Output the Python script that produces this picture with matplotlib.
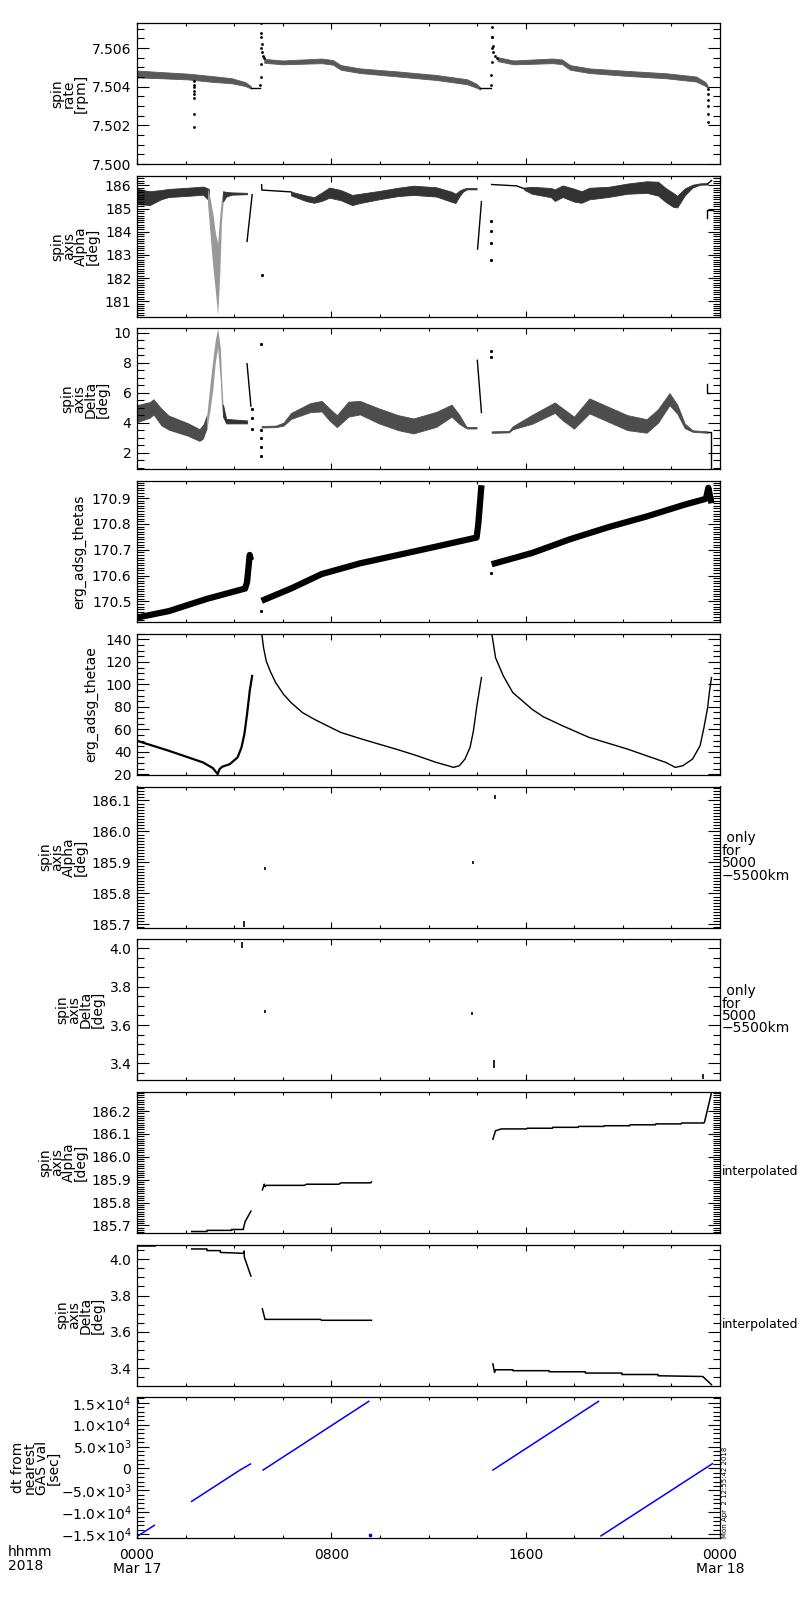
import matplotlib
matplotlib.use("Agg")
import matplotlib.pyplot as plt
from matplotlib.ticker import MultipleLocator, FixedLocator

# ---------------- data (hours after 0000 Mar 17) ----------------
# panel 1: spin rate [rpm]
rate_a_t = [0.00, 0.99, 2.09, 3.12, 3.90, 4.45, 4.69]
rate_a_mid = [7.50466, 7.50460, 7.50453, 7.50440, 7.50431, 7.50414, 7.50397]
rate_a_hw = [0.00018, 0.00016, 0.00015, 0.00015, 0.00013, 0.00010, 0.00006]
rate_b_t = [5.24, 6.00, 7.60, 8.07, 8.39, 9.18, 10.75, 12.32, 13.58, 13.98, 14.13]
rate_b_mid = [7.50534, 7.50526, 7.50534, 7.50526, 7.50500, 7.50483, 7.50466,
              7.50448, 7.50426, 7.50405, 7.50391]
rate_b_hw = [0.00010, 0.00010, 0.00012, 0.00012, 0.00012, 0.00012, 0.00013,
             0.00013, 0.00013, 0.00010, 0.00005]
rate_c_t = [14.84, 15.50, 17.10, 17.50, 17.83, 18.62, 20.19, 21.77, 23.02, 23.40, 23.49]
rate_c_mid = [7.50543, 7.50526, 7.50534, 7.50529, 7.50500, 7.50483, 7.50469,
              7.50457, 7.50440, 7.50414, 7.50400]
rate_c_hw = [0.00010, 0.00010, 0.00012, 0.00012, 0.00012, 0.00012, 0.00013,
             0.00013, 0.00013, 0.00010, 0.00005]
rate_flat1_t = [4.69, 5.08]
rate_flat1_v = [7.50391, 7.50391]
rate_flat2_t = [14.13, 14.58]
rate_flat2_v = [7.50391, 7.50391]
rate_dot_t = [2.33, 2.33, 2.33, 2.33, 2.33, 2.33, 2.33, 2.33,
              5.08, 5.09, 5.10, 5.10, 5.11, 5.11, 5.12, 5.13, 5.15, 5.18, 5.22,
              14.58, 14.59, 14.60, 14.60, 14.61, 14.61, 14.62, 14.64, 14.67, 14.72, 14.80,
              23.52, 23.52, 23.52, 23.52, 23.52, 23.52]
rate_dot_v = [7.5043, 7.5041, 7.5040, 7.5038, 7.5036, 7.5034, 7.5026, 7.5019,
              7.5041, 7.5045, 7.5052, 7.5060, 7.5066, 7.5073, 7.5068, 7.5062, 7.5058, 7.5056, 7.5055,
              7.5041, 7.5046, 7.5053, 7.5060, 7.5066, 7.5071, 7.5066, 7.5061, 7.5058, 7.5056, 7.5055,
              7.5039, 7.5036, 7.5033, 7.5030, 7.5026, 7.5022]

# panel 2: spin axis Alpha [deg]
alpha_a1_t = [0.00, 0.52, 0.99, 1.31, 2.09, 2.72, 2.96]
alpha_a1_lo = [185.20, 185.15, 185.40, 185.50, 185.55, 185.60, 185.35]
alpha_a1_hi = [185.85, 185.75, 185.80, 185.85, 185.90, 185.95, 185.85]
alpha_dip_t = [2.90, 3.00, 3.12, 3.22, 3.32, 3.40, 3.48, 3.54]
alpha_dip_lo = [185.30, 184.00, 182.50, 181.50, 180.40, 182.00, 184.50, 185.20]
alpha_dip_hi = [185.90, 185.50, 184.80, 184.00, 183.50, 184.60, 185.50, 185.75]
alpha_a2_t = [3.54, 3.67, 3.90, 4.53]
alpha_a2_lo = [185.30, 185.52, 185.60, 185.62]
alpha_a2_hi = [185.75, 185.72, 185.70, 185.68]
alpha_b_t = [6.34, 6.97, 7.29, 7.60, 7.92, 8.39, 8.86, 9.18, 9.96, 10.75, 11.38,
             12.32, 12.95, 13.11, 13.27, 13.42, 13.58, 13.98]
alpha_b_mid = [185.65, 185.44, 185.37, 185.51, 185.69, 185.58, 185.37, 185.44, 185.58,
               185.72, 185.79, 185.72, 185.51, 185.44, 185.65, 185.79, 185.86, 185.86]
alpha_b_hw = [0.08, 0.12, 0.12, 0.18, 0.22, 0.22, 0.22, 0.20, 0.18, 0.18, 0.20,
              0.20, 0.22, 0.20, 0.12, 0.06, 0.03, 0.03]
alpha_c_t = [15.94, 16.26, 17.04, 17.20, 17.52, 17.99, 18.30, 18.62, 19.40, 20.19,
             20.98, 21.45, 21.77, 22.08, 22.24, 22.55, 22.87, 23.18, 23.49]
alpha_c_mid = [185.86, 185.79, 185.69, 185.58, 185.75, 185.58, 185.50, 185.65, 185.72,
               185.86, 185.93, 185.86, 185.58, 185.37, 185.30, 185.72, 185.97, 186.06, 186.07]
alpha_c_hw = [0.05, 0.15, 0.20, 0.25, 0.25, 0.28, 0.25, 0.25, 0.22, 0.22,
              0.25, 0.30, 0.30, 0.30, 0.25, 0.15, 0.06, 0.03, 0.03]
alpha_lines = [
    ([4.53, 4.74], [183.58, 185.60]),
    ([5.13, 5.14, 6.34], [186.03, 185.80, 185.72]),
    ([14.02, 14.18], [183.25, 185.30]),
    ([14.60, 15.63, 15.94], [186.04, 185.98, 185.86]),
    ([23.49, 23.65], [186.07, 186.21]),
    ([23.47, 23.47, 23.70], [184.60, 184.94, 184.94]),
]
alpha_dot_t = [5.13, 14.57, 14.57, 14.57, 14.57]
alpha_dot_v = [182.13, 184.45, 184.03, 183.50, 182.76]

# panel 3: spin axis Delta [deg]
delta_a1_t = [0.00, 0.52, 0.68, 0.99, 1.31, 2.09, 2.57, 2.72, 2.88]
delta_a1_lo = [4.0, 4.3, 4.5, 3.8, 3.5, 3.1, 2.75, 2.9, 3.6]
delta_a1_hi = [5.2, 5.4, 5.6, 5.0, 4.5, 4.0, 3.6, 3.9, 4.6]
delta_spk_t = [2.88, 3.00, 3.12, 3.22, 3.32, 3.43, 3.48, 3.54]
delta_spk_lo = [3.6, 4.8, 6.2, 8.0, 9.0, 6.8, 5.0, 4.4]
delta_spk_hi = [4.6, 6.5, 8.2, 9.5, 10.3, 9.0, 7.0, 5.2]
delta_a2_t = [3.54, 3.67, 4.53]
delta_a2_lo = [4.40, 3.95, 3.95]
delta_a2_hi = [5.20, 4.25, 4.15]
delta_b_t = [5.13, 5.71, 6.03, 6.34, 7.13, 7.60, 7.92, 8.23, 8.70, 9.18, 9.96,
             10.75, 11.38, 12.32, 12.95, 13.27, 13.50, 13.58, 13.98]
delta_b_mid = [3.73, 3.75, 3.90, 4.45, 5.00, 5.10, 4.55, 4.10, 4.90, 5.00, 4.45,
               4.00, 3.78, 4.22, 4.80, 4.22, 3.78, 3.66, 3.66]
delta_b_hw = [0.05, 0.05, 0.10, 0.20, 0.30, 0.35, 0.40, 0.40, 0.50, 0.45, 0.50,
              0.50, 0.50, 0.50, 0.40, 0.30, 0.10, 0.05, 0.05]
delta_c_t = [14.60, 15.31, 15.47, 16.26, 17.20, 17.52, 17.99, 18.62, 19.40, 20.19,
             20.98, 21.45, 21.92, 22.24, 22.55, 22.87, 23.49]
delta_c_mid = [3.37, 3.40, 3.66, 4.22, 5.00, 4.56, 4.00, 5.12, 4.56, 4.00,
               3.78, 4.45, 5.57, 4.90, 3.78, 3.44, 3.37]
delta_c_hw = [0.05, 0.05, 0.10, 0.30, 0.35, 0.40, 0.40, 0.50, 0.50, 0.50,
              0.45, 0.45, 0.40, 0.30, 0.15, 0.05, 0.05]
delta_lines = [
    ([4.53, 4.69], [7.93, 5.10]),
    ([14.01, 14.18], [8.16, 4.67]),
    ([23.49, 23.62, 23.62], [3.37, 3.37, 0.85]),
    ([23.47, 23.47, 23.55], [6.60, 6.00, 6.00]),
]
delta_dot_t = [4.74, 4.74, 4.74, 5.11, 5.12, 5.12, 5.12, 5.12, 14.57, 14.57]
delta_dot_v = [4.90, 4.30, 3.60, 9.28, 3.50, 3.00, 2.40, 1.75, 8.80, 8.40]

# panel 4: erg_adsg_thetas
thetas_a_t = [0.00, 1.31, 2.88, 4.45, 4.53, 4.64, 4.69]
thetas_a_v = [170.4375, 170.4625, 170.5100, 170.5500, 170.5750, 170.6800, 170.6600]
thetas_b_t = [5.13, 6.34, 7.60, 9.18, 10.75, 12.32, 13.98, 14.05, 14.18]
thetas_b_v = [170.5025, 170.5500, 170.6060, 170.6475, 170.6800, 170.7125, 170.7475,
              170.8000, 170.9500]
thetas_c_t = [14.60, 16.26, 17.83, 19.40, 20.98, 22.55, 23.42, 23.52, 23.65]
thetas_c_v = [170.6440, 170.6875, 170.7410, 170.7875, 170.8290, 170.8750, 170.8975,
              170.9400, 170.8800]
thetas_dot_t = [5.11, 14.57]
thetas_dot_v = [170.4625, 170.6100]

# panel 5: erg_adsg_thetae
thetae_a_t = [0.00, 1.31, 2.72, 3.12, 3.32, 3.40, 3.51, 3.82, 4.14, 4.30, 4.42,
              4.53, 4.64, 4.74]
thetae_a_v = [49.8, 40.9, 30.5, 25.5, 20.2, 24.6, 26.7, 29.0, 35.0, 43.8, 55.7,
              73.4, 94.1, 107.5]
thetae_b_t = [5.13, 5.21, 5.32, 5.48, 5.71, 6.03, 6.34, 6.81, 7.29, 7.92, 8.39, 9.18,
              9.96, 10.75, 11.54, 12.32, 12.80, 13.03, 13.27, 13.50, 13.71, 13.85,
              13.98, 14.09, 14.18]
thetae_b_v = [146.0, 132.6, 120.8, 111.9, 101.5, 91.2, 83.8, 74.9, 69.0, 62.2, 57.2, 51.8,
              46.8, 41.8, 36.4, 30.5, 27.6, 26.1, 27.6, 33.5, 43.8, 58.6,
              79.3, 94.1, 106.0]
thetae_c_t = [14.60, 14.76, 15.08, 15.47, 16.26, 16.73, 17.52, 18.62, 20.19, 21.77,
              22.16, 22.47, 22.87, 23.18, 23.34, 23.49, 23.57, 23.65]
thetae_c_v = [146.0, 123.7, 107.5, 92.7, 77.9, 71.1, 63.1, 52.7, 42.4, 30.5,
              26.1, 27.6, 33.5, 45.4, 61.6, 79.3, 94.1, 106.0]

# panel 6: spin axis Alpha, 5000-5500 km only (short marks)
alpha_km_t = [4.39, 5.27, 13.85, 14.72]
alpha_km_lo = [185.690, 185.874, 185.895, 186.104]
alpha_km_hi = [185.712, 185.884, 185.906, 186.118]

# panel 7: spin axis Delta, 5000-5500 km only
delta_km_t = [4.32, 5.27, 13.80, 14.70, 23.30]
delta_km_lo = [4.000, 3.664, 3.654, 3.375, 3.318]
delta_km_hi = [4.030, 3.680, 3.670, 3.420, 3.345]

# panel 8: spin axis Alpha, interpolated
alpha_int = [
    ([2.25, 2.88, 2.88, 3.90, 3.90, 4.38, 4.38, 4.45, 4.69],
     [185.673, 185.673, 185.678, 185.678, 185.682, 185.682, 185.686, 185.716, 185.762]),
    ([5.16, 5.24, 5.27, 5.32, 6.89, 6.97, 8.31, 8.39, 9.62, 9.65],
     [185.855, 185.880, 185.870, 185.875, 185.875, 185.880, 185.880, 185.886, 185.886, 185.890]),
    ([14.65, 14.76, 15.00, 16.04, 16.06, 17.10, 17.12, 18.16, 18.18, 19.22, 19.24,
      20.28, 20.30, 21.34, 21.36, 22.40, 22.42, 23.34, 23.37, 23.65],
     [186.077, 186.114, 186.122, 186.122, 186.125, 186.125, 186.129, 186.129, 186.133,
      186.133, 186.136, 186.136, 186.140, 186.140, 186.144, 186.144, 186.148, 186.148,
      186.155, 186.280]),
]

# panel 9: spin axis Delta, interpolated
delta_int = [
    ([0.00, 0.76], [4.074, 4.074]),
    ([2.25, 2.88, 2.88, 3.43, 3.43, 4.38, 4.41, 4.42, 4.69],
     [4.056, 4.056, 4.047, 4.047, 4.037, 4.032, 4.045, 4.010, 3.907]),
    ([5.16, 5.27, 7.55, 7.60, 9.65], [3.727, 3.669, 3.669, 3.664, 3.664]),
    ([14.65, 14.72, 14.76, 15.47, 15.47, 16.97, 16.97, 18.46, 18.46, 19.96, 19.96,
      21.45, 21.45, 23.29, 23.65],
     [3.424, 3.377, 3.392, 3.392, 3.387, 3.387, 3.381, 3.381, 3.374, 3.374, 3.366,
      3.366, 3.359, 3.355, 3.310]),
]

# panel 10: dt from nearest GAS val [sec]
dt_segs = [
    ([0.04, 0.71], [-15400, -13000]),
    ([2.25, 4.24, 4.67], [-7520, -365, 1020]),
    ([5.19, 9.54], [-365, 15330]),
    ([14.65, 19.00], [-365, 15330]),
    ([19.10, 23.69], [-15400, 1095]),
]
dt_dot_t = [0.0, 9.60]
dt_dot_v = [15500, -15250]

# axes text / ticks
ylabels = ["spin\nrate\n[rpm]", "spin\naxis\nAlpha\n[deg]", "spin\naxis\nDelta\n[deg]",
           "erg_adsg_thetas", "erg_adsg_thetae", "spin\naxis\nAlpha\n[deg]",
           "spin\naxis\nDelta\n[deg]", "spin\naxis\nAlpha\n[deg]", "spin\naxis\nDelta\n[deg]",
           "dt from\nnearest\nGAS val\n[sec]"]
ylabel_x = [69, 75, 85, 79, 91, 63, 80, 63, 80, 36]
right_notes = ["", "", "", "", "", " only\nfor\n5000\n\u22125500km",
               " only\nfor\n5000\n\u22125500km", "interpolated", "interpolated", ""]
ylims = [(7.500, 7.5073), (180.33, 186.42), (0.88, 10.29), (170.42, 170.966),
         (19.5, 145.0), (185.69, 186.145), (3.313, 4.047), (185.667, 186.284),
         (3.305, 4.08), (-15950, 16250)]
ymajor = [[7.500, 7.502, 7.504, 7.506], [181, 182, 183, 184, 185, 186], [2, 4, 6, 8, 10],
          [170.5, 170.6, 170.7, 170.8, 170.9], [20, 40, 60, 80, 100, 120, 140],
          [185.7, 185.8, 185.9, 186.0, 186.1], [3.4, 3.6, 3.8, 4.0],
          [185.7, 185.8, 185.9, 186.0, 186.1, 186.2], [3.4, 3.6, 3.8, 4.0],
          [-15000, -10000, -5000, 0, 5000, 10000, 15000]]
yfmt = ["%.3f", "%d", "%d", "%.1f", "%d", "%.1f", "%.1f", "%.1f", "%.1f", None]
yminor = [0.0005, 0.1, 0.5, 0.01, 5, 0.01, 0.05, 0.01, 0.05, 1000]
dt_ticklabels = [r"$-1.5{\times}10^{4}$", r"$-1.0{\times}10^{4}$", r"$-5.0{\times}10^{3}$",
                 r"$0$", r"$5.0{\times}10^{3}$", r"$1.0{\times}10^{4}$", r"$1.5{\times}10^{4}$"]
xticks = [0, 8, 16, 24]
xticklabels = ["0000\nMar 17", "0800", "1600", "0000\nMar 18"]

# ---------------- figure ----------------
plt.rcParams["font.family"] = ["DejaVu Sans"]
plt.rcParams["mathtext.fontset"] = "dejavusans"
W, H = 800, 1600
fig = plt.figure(figsize=(W / 100, H / 100), dpi=100)
left, right, ph = 137, 720, 141
tops = [23 + 152.7 * i for i in range(10)]
axes = []
for i, top in enumerate(tops):
    ax = fig.add_axes([left / W, 1 - (top + ph) / H, (right - left) / W, ph / H])
    ax.set_xlim(0, 24)
    ax.set_ylim(*ylims[i])
    ax.xaxis.set_major_locator(FixedLocator(xticks))
    ax.xaxis.set_minor_locator(MultipleLocator(2))
    ax.yaxis.set_major_locator(FixedLocator(ymajor[i]))
    ax.yaxis.set_minor_locator(MultipleLocator(yminor[i]))
    if yfmt[i]:
        ax.set_yticklabels([yfmt[i] % v for v in ymajor[i]])
    else:
        ax.set_yticklabels(dt_ticklabels)
    ax.tick_params(which="both", direction="in", top=True, right=True,
                   width=0.8, labelsize=10, color="black")
    ax.tick_params(axis="y", which="major", length=8.6, pad=4)
    ax.tick_params(axis="y", which="minor", length=5)
    ax.tick_params(axis="x", which="major", length=4.3, pad=7)
    ax.tick_params(axis="x", which="minor", length=2.2)
    if i < 9:
        ax.set_xticklabels([])
    else:
        ax.set_xticklabels(xticklabels, linespacing=1.0)
    for s in ax.spines.values():
        s.set_linewidth(0.9)
    cy = 1 - (top + ph / 2) / H
    fig.text(ylabel_x[i] / W, cy, ylabels[i], rotation=90, ha="center", va="center",
             multialignment="center", fontsize=10, linespacing=0.8)
    if right_notes[i] == "interpolated":
        fig.text(722 / W, cy - 9 / H, right_notes[i], ha="left", va="center", fontsize=9)
    elif right_notes[i]:
        fig.text(722 / W, cy, right_notes[i], ha="left", va="center", fontsize=10,
                 linespacing=0.85)
    axes.append(ax)

dense = "0.2"
sparse = "0.6"

def band(ax, t, mid, hw, color=dense):
    lo = [m - h for m, h in zip(mid, hw)]
    hi = [m + h for m, h in zip(mid, hw)]
    ax.fill_between(t, lo, hi, color=color, lw=0.6, edgecolor=color)

# panel 1
ax = axes[0]
band(ax, rate_a_t, rate_a_mid, rate_a_hw, color="0.35")
band(ax, rate_b_t, rate_b_mid, rate_b_hw, color="0.35")
band(ax, rate_c_t, rate_c_mid, rate_c_hw, color="0.35")
ax.plot(rate_flat1_t, rate_flat1_v, color="k", lw=1)
ax.plot(rate_flat2_t, rate_flat2_v, color="k", lw=1)
ax.plot(rate_dot_t, rate_dot_v, ls="none", marker="s", ms=0.9, color="k")

# panel 2
ax = axes[1]
ax.fill_between(alpha_a1_t, alpha_a1_lo, alpha_a1_hi, color=dense, lw=0.6)
ax.fill_between(alpha_dip_t, alpha_dip_lo, alpha_dip_hi, color=sparse, lw=0)
ax.fill_between(alpha_a2_t, alpha_a2_lo, alpha_a2_hi, color=dense, lw=0.6)
band(ax, alpha_b_t, alpha_b_mid, alpha_b_hw)
band(ax, alpha_c_t, alpha_c_mid, alpha_c_hw)
for t, v in alpha_lines:
    ax.plot(t, v, color="k", lw=1)
ax.plot(alpha_dot_t, alpha_dot_v, ls="none", marker="s", ms=1.1, color="k")

# panel 3
ax = axes[2]
ax.fill_between(delta_a1_t, delta_a1_lo, delta_a1_hi, color="0.3", lw=0)
ax.fill_between(delta_spk_t, delta_spk_lo, delta_spk_hi, color=sparse, lw=0)
ax.fill_between(delta_a2_t, delta_a2_lo, delta_a2_hi, color=dense, lw=0.6)
band(ax, delta_b_t, delta_b_mid, delta_b_hw, color="0.3")
band(ax, delta_c_t, delta_c_mid, delta_c_hw, color="0.3")
for t, v in delta_lines:
    ax.plot(t, v, color="k", lw=1)
ax.plot(delta_dot_t, delta_dot_v, ls="none", marker="s", ms=1.1, color="k")

# panel 4
ax = axes[3]
for t, v in [(thetas_a_t, thetas_a_v), (thetas_b_t, thetas_b_v), (thetas_c_t, thetas_c_v)]:
    ax.plot(t, v, color="k", lw=4.5, solid_capstyle="butt", solid_joinstyle="round")
ax.plot(thetas_dot_t, thetas_dot_v, ls="none", marker="s", ms=1.1, color="k")

# panel 5
ax = axes[4]
ax.plot(thetae_a_t, thetae_a_v, color="k", lw=1.6)
ax.plot(thetae_b_t, thetae_b_v, color="k", lw=1.0)
ax.plot(thetae_c_t, thetae_c_v, color="k", lw=1.0)

# panels 6 and 7
axes[5].vlines(alpha_km_t, alpha_km_lo, alpha_km_hi, color="k", lw=1.2)
axes[6].vlines(delta_km_t, delta_km_lo, delta_km_hi, color="k", lw=1.2)

# panels 8 and 9
for t, v in alpha_int:
    axes[7].plot(t, v, color="k", lw=1.1)
for t, v in delta_int:
    axes[8].plot(t, v, color="k", lw=1.1)

# panel 10
ax = axes[9]
for t, v in dt_segs:
    ax.plot(t, v, color="#0000ff", lw=1.1)
ax.plot(dt_dot_t, dt_dot_v, ls="none", marker="s", ms=1.5, color="#0000ff")

fig.text(8 / W, 1 - 1559 / H, "hhmm\n2018", ha="left", va="center", fontsize=10,
         linespacing=1.0)
fig.text(725 / W, 1 - 1538 / H, "Mon Apr  2 12:55:42 2018", rotation=90,
         ha="center", va="bottom", fontsize=5)

fig.savefig("out.png", dpi=100)
